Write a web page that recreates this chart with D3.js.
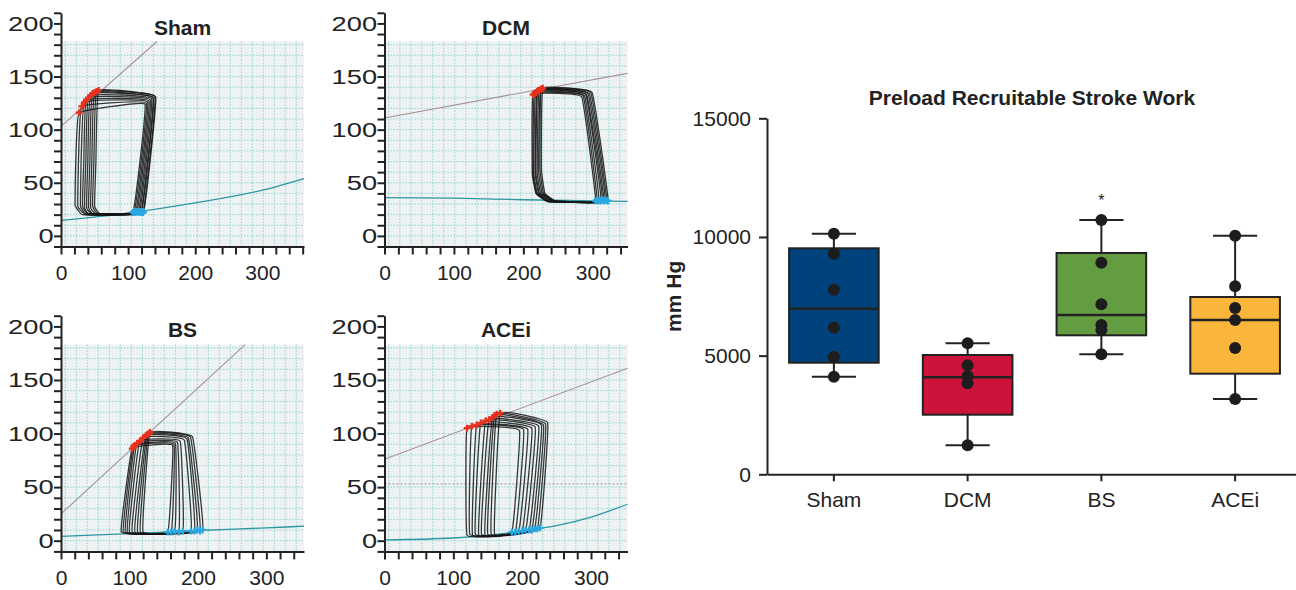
<!DOCTYPE html>
<html>
<head>
<meta charset="utf-8">
<script src="https://cdn.jsdelivr.net/npm/d3@7"></script>
<style>
body { margin: 0; background: #fff; }
svg { display: block; font-family: "Liberation Sans", Arial, sans-serif; }
</style>
</head>
<body>
<div id="wrapper"></div>
<script>
// ---- box plot data (Preload Recruitable Stroke Work) ----
const groups = ['Sham', 'DCM', 'BS', 'ACEi']
const boxColors = ['#00427b', '#cb133c', '#649d41', '#fab53b']
const swPoints = [
    [10137, 9295, 7778, 6177, 4942, 4112],
    [5520, 4593, 4142, 3834, 1222],
    [10715, 8916, 7163, 6290, 6080, 5056],
    [10053, 7921, 7007, 6502, 5322, 3173]
]
const swQ1 = [4702, 2511, 5857, 4239]
const swMedian = [6978, 4086, 6712, 6502]
const swQ3 = [9523, 5027, 9324, 7470]
const swTicks = [0, 5000, 10000, 15000]
const starGroups = ['BS']

// ---- PV loop panels ----
const pvTitles = ['Sham', 'DCM', 'BS', 'ACEi']
const pvXMax = [362, 350, 355, 353]
const pvYLabels = [0, 50, 100, 150, 200]
const pvXLabels = [0, 100, 200, 300]

// each loop: [ED, top right, ES, ...left side / bottom] as [volume, pressure]
const shamLoops = [
    [[123, 23], [141, 131], [56, 137], [52, 70], [50, 28], [58, 21]],
    [[122, 22], [140, 131], [53, 136], [49, 70], [47, 28], [55, 21]],
    [[120, 23], [138, 130], [50, 135], [46, 70], [44, 27], [52, 21]],
    [[119, 22], [137, 130], [47, 134], [43, 70], [41, 27], [49, 20]],
    [[117, 23], [135, 129], [44, 132], [40, 70], [38, 27], [46, 21]],
    [[115, 22], [133, 128], [41, 130], [37, 70], [35, 27], [43, 20]],
    [[113, 23], [131, 127], [38, 128], [34, 70], [32, 28], [40, 21]],
    [[111, 22], [129, 126], [35, 126], [30, 70], [29, 28], [38, 20]],
    [[109, 23], [127, 125], [31, 122], [26, 70], [25, 28], [35, 21]],
    [[107, 22], [125, 124], [27, 116], [22, 70], [21, 29], [32, 20]]
]
const dcmLoops = [
    [[322, 33], [299, 135], [228, 139], [226, 62], [231, 40], [248, 32], [280, 32]],
    [[320, 33], [297, 135], [226, 138], [224, 62], [229, 40], [246, 32], [278, 32]],
    [[318, 34], [295, 134], [225, 138], [222, 61], [227, 40], [244, 33], [276, 32]],
    [[316, 33], [293, 134], [223, 137], [220, 60], [225, 40], [242, 33], [274, 32]],
    [[314, 34], [291, 133], [221, 137], [218, 60], [223, 40], [240, 33], [272, 32]],
    [[312, 33], [290, 133], [220, 136], [217, 59], [222, 40], [238, 32], [270, 32]],
    [[309, 33], [288, 132], [218, 135], [215, 59], [220, 40], [236, 32], [268, 32]],
    [[306, 34], [286, 132], [216, 134], [214, 58], [219, 40], [234, 33], [266, 32]],
    [[304, 33], [284, 131], [214, 133], [213, 58], [218, 40], [232, 33], [264, 32]]
]
const bsLoops = [
    [[207, 10], [192, 97], [130, 101], [120, 8]],
    [[203, 9], [189, 97], [128, 100], [116, 8]],
    [[199, 10], [186, 96], [126, 99], [112, 8]],
    [[195, 9], [184, 95], [124, 98], [108, 8]],
    [[190, 9], [180, 94], [120, 96], [104, 8]],
    [[178, 9], [174, 93], [115, 93], [100, 8]],
    [[172, 8], [170, 92], [111, 91], [97, 8]],
    [[166, 9], [167, 91], [108, 89], [94, 8]],
    [[161, 8], [165, 90], [106, 88], [91, 8]],
    [[156, 8], [163, 89], [104, 86], [88, 8]]
]
const aceiLoops = [
    [[226, 12], [237, 110], [168, 119], [160, 6]],
    [[222, 11], [234, 109], [163, 118], [155, 6]],
    [[218, 11], [231, 108], [160, 117], [150, 6]],
    [[214, 10], [228, 108], [157, 115], [146, 5]],
    [[210, 10], [224, 107], [152, 113], [141, 6]],
    [[205, 10], [219, 106], [147, 112], [137, 5]],
    [[200, 9], [214, 105], [140, 110], [132, 6]],
    [[195, 9], [208, 104], [134, 108], [128, 5]],
    [[190, 8], [202, 104], [127, 107], [124, 6]],
    [[185, 8], [196, 103], [120, 105], [120, 5]]
]
const espvrLines = [
    [[0, 103], [143, 183]],
    [[0, 111], [350, 153]],
    [[0, 25], [269, 183]],
    [[0, 76], [353, 161]]
]
const edpvrLines = [
    [[0, 14.5], [100, 21.5], [200, 31], [300, 43], [362, 54]],
    [[0, 36], [100, 35.5], [200, 34], [300, 33], [350, 32.5]],
    [[0, 4], [100, 6.5], [200, 9.5], [300, 12], [355, 13.5]],
    [[0, 0.7], [100, 2.5], [150, 5], [200, 9], [250, 14], [300, 22], [353, 34]]
]
const aceiRefPressure = 53

const pvLoops = [shamLoops, dcmLoops, bsLoops, aceiLoops]

const svg = d3.select('#wrapper').append('svg')
    .attr('width', 1296)
    .attr('height', 590)

const ink = '#222'
const pvCols = [61, 384.5]
const pvRows = [[246.5, 12.8], [551.4, 315.7]]
const pvWidth = 243
const gridTopP = 183

pvTitles.forEach((title, i) => {
    const left = pvCols[i % 2]
    const [yBottom, yTop] = pvRows[Math.floor(i / 2)]
    const x = d3.scaleLinear().domain([0, pvXMax[i]]).range([left, left + pvWidth])
    const y = d3.scaleLinear().domain([-10, 210]).range([yBottom, yTop])
    const g = svg.append('g')

    // paper background + dotted grid
    const gTop = y(gridTopP)
    g.append('rect')
        .attr('x', left).attr('y', gTop)
        .attr('width', pvWidth).attr('height', yBottom - gTop)
        .attr('fill', '#eef2f2')
    g.selectAll('.vgrid')
        .data(d3.range(left + 4.3, left + pvWidth, 11))
        .join('line')
        .attr('x1', d => d).attr('x2', d => d)
        .attr('y1', gTop).attr('y2', yBottom)
        .attr('stroke', '#92d3d6').attr('stroke-width', 1)
        .attr('stroke-dasharray', '1.5,1.5')
    g.selectAll('.hgrid')
        .data(d3.range(0, gridTopP, 10))
        .join('line')
        .attr('x1', left).attr('x2', left + pvWidth)
        .attr('y1', d => y(d)).attr('y2', d => y(d))
        .attr('stroke', '#92d3d6').attr('stroke-width', 1)
        .attr('stroke-dasharray', '1.5,1.5')

    const line = d3.line().x(d => x(d[0])).y(d => y(d[1]))

    if (i === 3) {
        g.append('line')
            .attr('x1', x(0)).attr('x2', x(pvXMax[i]))
            .attr('y1', y(aceiRefPressure)).attr('y2', y(aceiRefPressure))
            .attr('stroke', '#9a9a9a').attr('stroke-dasharray', '2,2')
    }

    g.append('path')
        .attr('d', line(espvrLines[i]))
        .attr('fill', 'none').attr('stroke', '#a8909a').attr('stroke-width', 1.1)
    g.append('path')
        .attr('d', line.curve(d3.curveMonotoneX)(edpvrLines[i]))
        .attr('fill', 'none').attr('stroke', '#2a97a3').attr('stroke-width', 1.3)

    const loopLine = d3.line().x(d => x(d[0])).y(d => y(d[1]))
        .curve(d3.curveCardinalClosed.tension(0.8))
    g.selectAll('.loop')
        .data(pvLoops[i])
        .join('path')
        .attr('d', loopLine)
        .attr('fill', 'none')
        .attr('stroke', '#151515')
        .attr('stroke-width', 1.3)
        .attr('stroke-opacity', 0.85)

    const cross = d3.symbol().type(d3.symbolCross).size(26)
    g.selectAll('.es')
        .data(pvLoops[i])
        .join('path')
        .attr('d', cross)
        .attr('transform', d => `translate(${x(d[2][0])},${y(d[2][1])})`)
        .attr('fill', '#e8321e')
    g.selectAll('.ed')
        .data(pvLoops[i])
        .join('path')
        .attr('d', cross)
        .attr('transform', d => `translate(${x(d[0][0])},${y(d[0][1])})`)
        .attr('fill', '#2aa8e0')

    // axes
    const yAxis = d3.axisLeft(y)
        .tickValues(d3.range(-10, 211, 10))
        .tickSize(7).tickSizeOuter(0)
        .tickFormat(d => pvYLabels.includes(d) ? d : '')
    const ya = g.append('g').attr('transform', `translate(${left},0)`).call(yAxis)
    ya.selectAll('text').attr('x', null)
        .attr('transform', 'translate(-7.4,0) scale(1.3,1)')

    const xAxis = d3.axisBottom(x)
        .tickValues(d3.range(0, pvXMax[i] + 1, 20))
        .tickSize(8).tickSizeOuter(0).tickPadding(11)
        .tickFormat(d => pvXLabels.includes(d) ? d : '')
    g.append('g').attr('transform', `translate(0,${yBottom})`).call(xAxis)

    g.selectAll('.domain, .tick line').attr('stroke', ink).attr('stroke-width', 2)
    g.selectAll('.tick text').attr('fill', ink).style('font-size', '21px')
        .style('font-family', '"Liberation Sans", Arial, sans-serif')

    g.append('text')
        .attr('x', left + pvWidth / 2)
        .attr('y', i < 2 ? 35 : 337)
        .attr('text-anchor', 'middle')
        .style('font-size', '21px').style('font-weight', 'bold')
        .attr('fill', ink)
        .text(title)
})

// ---- box plot ----
const bx = d3.scaleBand().domain(groups).range([767, 1302])
const by = d3.scaleLinear().domain([0, 15000]).range([474.3, 118.3])
const box = svg.append('g')
const boxW = bx.bandwidth() * 0.67
const capW = bx.bandwidth() * 0.33

groups.forEach((name, i) => {
    const cx = bx(name) + bx.bandwidth() / 2
    const [lo, hi] = d3.extent(swPoints[i])
    const gg = box.append('g')
    gg.append('line')
        .attr('x1', cx).attr('x2', cx)
        .attr('y1', by(lo)).attr('y2', by(hi))
        .attr('stroke', ink).attr('stroke-width', 2)
    ;[lo, hi].forEach(v => {
        gg.append('line')
            .attr('x1', cx - capW / 2).attr('x2', cx + capW / 2)
            .attr('y1', by(v)).attr('y2', by(v))
            .attr('stroke', ink).attr('stroke-width', 2)
    })
    gg.append('rect')
        .attr('x', cx - boxW / 2).attr('y', by(swQ3[i]))
        .attr('width', boxW).attr('height', by(swQ1[i]) - by(swQ3[i]))
        .attr('fill', boxColors[i]).attr('stroke', ink).attr('stroke-width', 2)
    gg.append('line')
        .attr('x1', cx - boxW / 2).attr('x2', cx + boxW / 2)
        .attr('y1', by(swMedian[i])).attr('y2', by(swMedian[i]))
        .attr('stroke', ink).attr('stroke-width', 2.5)
    gg.selectAll('circle')
        .data(swPoints[i])
        .join('circle')
        .attr('cx', cx).attr('cy', d => by(d)).attr('r', 6)
        .attr('fill', '#1d1d1d')
    if (starGroups.includes(name)) {
        gg.append('text')
            .attr('x', cx).attr('y', by(hi) - 14)
            .attr('text-anchor', 'middle')
            .style('font-size', '16px').attr('fill', ink)
            .text('*')
    }
})

const bxAxis = d3.axisBottom(bx).tickSize(7).tickSizeOuter(0).tickPadding(11)
box.append('g').attr('transform', 'translate(0,474.3)').call(bxAxis)
const byAxis = d3.axisLeft(by).tickValues(swTicks).tickFormat(d3.format('d'))
    .tickSize(8).tickSizeOuter(0).tickPadding(8)
box.append('g').attr('transform', 'translate(767,0)').call(byAxis)
box.selectAll('.domain, .tick line').attr('stroke', ink).attr('stroke-width', 2)
box.selectAll('.tick text').attr('fill', ink).style('font-size', '21px')
    .style('font-family', '"Liberation Sans", Arial, sans-serif')

box.append('text')
    .attr('x', 1032).attr('y', 105)
    .attr('text-anchor', 'middle')
    .style('font-size', '21px').style('font-weight', 'bold')
    .attr('fill', ink)
    .text('Preload Recruitable Stroke Work')

box.append('text')
    .attr('transform', 'translate(681,296.3) rotate(-90)')
    .attr('text-anchor', 'middle')
    .style('font-size', '21px').style('font-weight', 'bold')
    .attr('fill', ink)
    .text('mm Hg')
</script>
</body>
</html>
